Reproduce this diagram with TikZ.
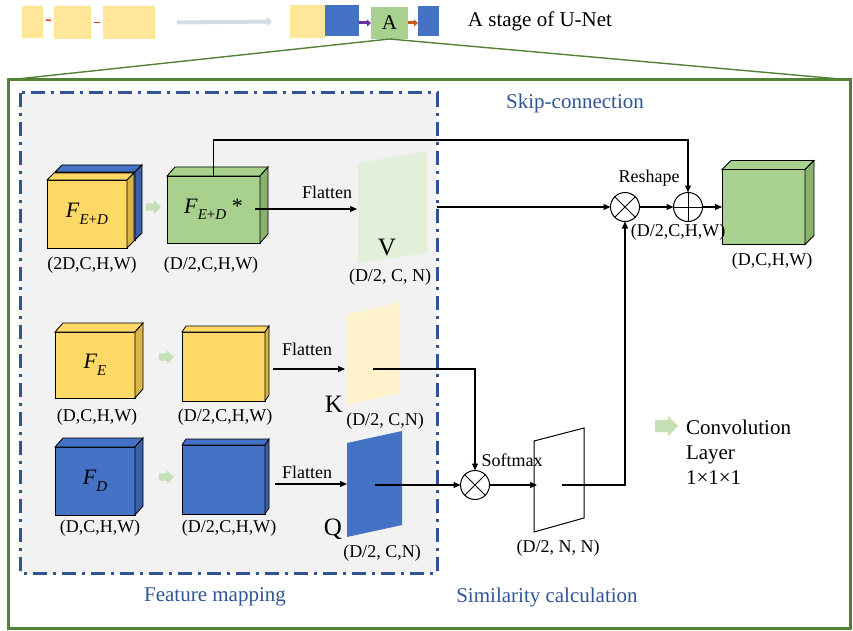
\documentclass[tikz,border=0pt]{standalone}
\usepackage{fontspec}
\setmainfont{Liberation Serif}
\usetikzlibrary{arrows.meta,shapes.arrows,calc}
\definecolor{yel}{HTML}{FFD966}
\definecolor{yelside}{HTML}{D9B44A}
\definecolor{blu}{HTML}{4472C4}
\definecolor{bluside}{HTML}{3A61A8}
\definecolor{grn}{HTML}{A9D18E}
\definecolor{grnside}{HTML}{8AB26F}
\definecolor{vgreen}{HTML}{E2F0D9}
\definecolor{kyel}{HTML}{FFF2CC}
\definecolor{fgreen}{HTML}{548235}
\definecolor{dblue}{HTML}{2F5597}
\definecolor{bggray}{HTML}{F2F2F2}
\definecolor{lgreen}{HTML}{C5E0B4}
\definecolor{topyel}{HTML}{FFE699}
\definecolor{arrgray}{HTML}{D6DCE5}
\definecolor{purp}{HTML}{7030A0}
\definecolor{orng}{HTML}{C55A11}
\definecolor{redd}{HTML}{E04010}
\newcommand\Fsub[1]{\textit{F}\raisebox{-0.3em}{\fontsize{15}{16}\selectfont #1}}
\newcommand\cubesides[5]{%
  \draw[fill=#4, line width=0.8pt] (#1.north west) -- ++(#2,-#3) -- ($(#1.north east)+(#2,-#3)$) -- (#1.north east) -- cycle;
  \draw[fill=#5, line width=0.8pt] (#1.north east) -- ++(#2,-#3) -- ($(#1.south east)+(#2,-#3)$) -- (#1.south east) -- cycle;}
\begin{document}
\begin{tikzpicture}[x=1pt,y=-1pt,
  every node/.style={inner sep=0pt, outer sep=0pt},
  lab/.style={font=\fontsize{18}{20}\selectfont},
  big/.style={font=\fontsize{25}{27}\selectfont},
  ttl/.style={font=\fontsize{21}{24}\selectfont, text=dblue},
  ftxt/.style={font=\fontsize{22}{24}\selectfont},
  front/.style={draw=black, line width=0.8pt},
  arr/.style={-{Triangle[length=7pt,width=6pt]}, line width=1.1pt},
  op/.style={circle, draw, line width=1pt, minimum size=29pt},
  conv/.style={single arrow, fill=lgreen, draw=none, inner sep=3.5pt, single arrow head extend=3pt, minimum height=15pt},
  tbox/.style={draw=none, minimum width=#1}
]
\useasboundingbox (0,0) rectangle (853,631);
% ---------- top row ----------
\node[tbox=21pt, minimum height=32pt, fill=topyel] (t1) at (32.5,22) {};
\node[tbox=37pt, minimum height=33pt, fill=topyel] (t2) at (72.5,22.5) {};
\node[tbox=52pt, minimum height=33pt, fill=topyel] (t3) at (129,22.5) {};
\draw[redd, line width=1.5pt] ($(t1.east)+(3,-2)$) -- ($(t2.west)+(-3,-2)$);
\draw[redd, line width=1.5pt] ($(t2.east)+(3,0)$) -- ($(t3.west)+(-3,0)$);
\node[tbox=35pt, minimum height=33pt, fill=topyel] (t4) at (307.5,21.5) {};
\node[tbox=34pt, minimum height=31pt, fill=blu] (t5) at (342,20.5) {};
\draw[arrgray, line width=4pt, -{Triangle[length=5pt,width=9pt]}] ($(t3.east)+(22,0)$) -- ($(t4.west)+(-18,0)$);
\node[tbox=37pt, minimum height=32pt, fill=grn, font=\fontsize{21}{23}\selectfont] (A) at (389.5,23) {A};
\node[tbox=21pt, minimum height=30pt, fill=blu] (t6) at (428.5,21) {};
\draw[purp, line width=3pt, -{Triangle[length=4pt,width=7pt]}] (t5.east|-A.west) -- (A.west);
\draw[orng, line width=3pt, -{Triangle[length=4pt,width=7pt]}] (A.east) -- (t6.west|-A.east);
\node[font=\fontsize{21}{24}\selectfont] (title) at (540,21) {A stage of U-Net};
% ---------- frame ----------
\coordinate (fl) at (8,80);
\coordinate (fr) at (851,80);
\draw[fgreen, line width=1.4pt] (A.south) -- (fl);
\draw[fgreen, line width=1.4pt] (A.south) -- (fr);
\draw[fgreen, line width=3pt] (8,80) rectangle (850,628);
% ---------- feature mapping box ----------
\fill[bggray] (20,93) rectangle (437,573);
\draw[dblue, line width=3pt, dash pattern=on 14pt off 6pt on 3pt off 6pt] (20,93) rectangle (437,573);
\node[ttl] (skiplab) at (575,103) {Skip-connection};
\node[ttl] (fmlab) at (215,597) {Feature mapping};
\node[ttl] (simlab) at (547,597) {Similarity calculation};
% ---------- row 1 ----------
\node[front, fill=blu, minimum width=80pt, minimum height=68pt] (bback) at (95,206) {};
\cubesides{bback}{7}{7}{blu}{bluside}
\node[front, fill=yel, minimum width=80pt, minimum height=68pt, ftxt] (fed) at (87,214) {\Fsub{\textit{E}+\textit{D}}};
\cubesides{fed}{7}{7}{yel}{yelside}
\node[lab] (l1) at (92,265) {(2D,C,H,W)};
\node[conv] (c1) at (151.5,207) {};
\node[front, fill=grn, minimum width=93pt, minimum height=67pt, ftxt] (fedm) at (213.5,209.5) {\Fsub{\textit{E}+\textit{D}} *};
\cubesides{fedm}{8}{9}{grn}{grnside}
\node[lab] (l2) at (211,265) {(D/2,C,H,W)};
\fill[vgreen] (358,163) -- (427,151) -- (427,253) -- (358,263) -- cycle;
\node[big] (V) at (387,248) {V};
\node[lab] (l3) at (390,277) {(D/2, C, N)};
\node[lab] (fl1) at (327,192) {Flatten};
\coordinate (fs) at (255,209);
\coordinate (vin) at (357,209);
\draw[arr] (fs) -- (vin);
% ---------- row 2 ----------
\node[front, fill=yel, minimum width=80pt, minimum height=66pt, ftxt] (fe) at (95,365) {\Fsub{\textit{E}}};
\cubesides{fe}{8}{9}{yel}{yelside}
\node[lab] (l4) at (97,417) {(D,C,H,W)};
\node[conv] (c2) at (164.5,357) {};
\node[front, fill=yel, minimum width=83pt, minimum height=69pt] (y2) at (223.5,366.5) {};
\cubesides{y2}{4}{6}{yel}{yelside}
\node[lab] (l5) at (225,417) {(D/2,C,H,W)};
\fill[kyel] (347,315) -- (400,302) -- (400,393) -- (347,405) -- cycle;
\node[big] (K) at (334,404) {K};
\node[lab] (l6) at (385,421) {(D/2, C,N)};
\node[lab] (fl2) at (307,349) {Flatten};
\coordinate (ks) at (273,369);
\coordinate (kin) at (345,369);
\draw[arr] (ks) -- (kin);
% ---------- row 3 ----------
\node[front, fill=blu, minimum width=80pt, minimum height=68pt, ftxt] (fd) at (95,481) {\Fsub{\textit{D}}};
\cubesides{fd}{8}{9}{blu}{bluside}
\node[lab] (l7) at (100,528) {(D,C,H,W)};
\node[conv] (c3) at (164.5,477) {};
\node[front, fill=blu, minimum width=83pt, minimum height=69pt] (b2) at (223.5,479.5) {};
\cubesides{b2}{4}{6}{blu}{bluside}
\node[lab] (l8) at (229,528) {(D/2,C,H,W)};
\fill[blu] (347,443) -- (402,431) -- (402,525) -- (347,537) -- cycle;
\node[big] (Q) at (333,529) {Q};
\node[lab] (l9) at (382,553) {(D/2, C,N)};
\node[lab] (fl3) at (307,472) {Flatten};
\coordinate (qs) at (275,484);
\coordinate (qin) at (347,484);
\draw[arr] (qs) -- (qin);
% ---------- similarity ----------
\node[op] (sm) at (475,485) {};
\draw[line width=1pt] (sm.north west) -- (sm.south east) (sm.north east) -- (sm.south west);
\coordinate (ko) at (373,369);
\draw[arr] (ko) -| (sm.north);
\coordinate (qo) at (375,485);
\draw[arr] (qo) -- (sm.west);
\draw[line width=1pt, fill=white] (534,441) -- (584,428) -- (584,518) -- (534,532) -- cycle;
\node[lab] (smlab) at (512,460) {Softmax};
\coordinate (ain) at (537,485);
\draw[arr] (sm.east) -- (ain);
\node[lab] (l10) at (558,548) {(D/2, N, N)};
% ---------- right part ----------
\node[op] (mt) at (625,207) {};
\draw[line width=1pt] (mt.north west) -- (mt.south east) (mt.north east) -- (mt.south west);
\node[op] (pl) at (688,207) {};
\draw[line width=1pt] (pl.north) -- (pl.south) (pl.west) -- (pl.east);
\node[lab] (rs) at (649,178) {Reshape};
\coordinate (ao) at (562,485);
\draw[arr] (ao) -| (mt.south);
\coordinate (vo) at (437,207);
\draw[arr] (vo) -- (mt.west);
\draw[arr] (mt.east) -- (pl.west);
\coordinate (skp) at (688,140);
\draw[arr] (fedm.north) |- (skp) -- (pl.north);
\node[front, fill=grn, minimum width=83pt, minimum height=75pt] (out) at (763.5,207) {};
\cubesides{out}{9}{9}{grn}{grnside}
\draw[arr] (pl.east) -- (out.west);
\node[lab] (l11) at (678,232) {(D/2,C,H,W)};
\node[lab] (l12) at (772,261) {(D,C,H,W)};
% ---------- legend ----------
\node[conv, inner sep=6pt, minimum height=23pt, single arrow head extend=4pt] (leg) at (663.5,426) {};
\node[font=\fontsize{21}{24}\selectfont, anchor=base west] (cv1) at (686,434) {Convolution};
\node[font=\fontsize{21}{24}\selectfont, anchor=base west] (cv2) at (686,459) {Layer};
\node[font=\fontsize{21}{24}\selectfont, anchor=base west] (cv3) at (686,484) {1×1×1};
\end{tikzpicture}
\end{document}
